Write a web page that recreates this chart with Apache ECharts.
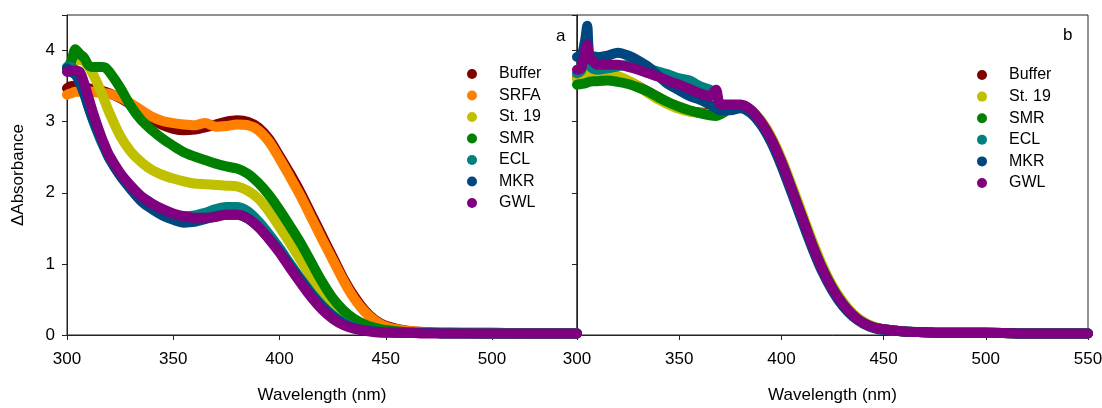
<!DOCTYPE html>
<html>
<head>
<meta charset="utf-8">
<script src="https://cdn.jsdelivr.net/npm/echarts@6/dist/echarts.min.js"></script>
<style>html,body{margin:0;padding:0;background:#fff}#c{width:1102px;height:408px}</style>
</head>
<body>
<div id="c"></div>
<script>
// ---------- Panel a ----------
const wlA = [300,302,304,306,308,310,312,314,316,318,320,325,330,335,340,345,350,355,360,365,370,375,380,385,390,395,400,405,410,415,420,425,430,435,440,445,450,460,470,480,500,520,540];
const aBuffer = [3.47,3.50,3.50,3.49,3.48,3.47,3.46,3.45,3.44,3.42,3.40,3.33,3.24,3.13,3.03,2.95,2.90,2.88,2.89,2.92,2.96,3.00,3.02,3.00,2.92,2.76,2.52,2.27,2.00,1.70,1.40,1.10,0.80,0.55,0.35,0.21,0.13,0.06,0.04,0.03,0.03,0.02,0.02];
const aSRFA   = [3.38,3.40,3.42,3.42,3.42,3.42,3.42,3.41,3.41,3.40,3.39,3.34,3.26,3.16,3.07,3.01,2.98,2.96,2.95,2.98,2.93,2.94,2.96,2.95,2.88,2.72,2.48,2.22,1.95,1.65,1.35,1.06,0.77,0.52,0.33,0.20,0.12,0.06,0.04,0.03,0.03,0.02,0.02];
const aSt19   = [3.72,3.80,3.85,3.87,3.85,3.78,3.68,3.56,3.42,3.27,3.12,2.80,2.58,2.43,2.32,2.25,2.20,2.16,2.13,2.12,2.11,2.10,2.09,2.03,1.92,1.74,1.52,1.29,1.05,0.81,0.59,0.41,0.27,0.18,0.12,0.08,0.06,0.04,0.03,0.03,0.02,0.02,0.02];
const aSMR    = [3.75,3.85,4.02,3.95,3.90,3.80,3.77,3.77,3.77,3.76,3.70,3.48,3.22,3.02,2.88,2.76,2.66,2.57,2.51,2.46,2.41,2.37,2.34,2.27,2.14,1.97,1.76,1.53,1.29,1.02,0.75,0.52,0.35,0.23,0.15,0.10,0.07,0.04,0.03,0.03,0.02,0.02,0.02];
const aECL    = [3.77,3.77,3.70,3.58,3.42,3.22,3.04,2.88,2.73,2.60,2.48,2.25,2.07,1.93,1.82,1.74,1.69,1.67,1.68,1.72,1.77,1.80,1.80,1.74,1.60,1.42,1.22,1.00,0.79,0.59,0.42,0.28,0.18,0.11,0.07,0.05,0.04,0.03,0.03,0.02,0.02,0.02,0.02];
const aMKR    = [3.75,3.70,3.66,3.55,3.40,3.22,3.05,2.90,2.76,2.62,2.48,2.24,2.05,1.88,1.77,1.68,1.62,1.58,1.59,1.63,1.67,1.69,1.69,1.64,1.52,1.36,1.18,0.97,0.77,0.57,0.40,0.26,0.16,0.10,0.07,0.05,0.04,0.03,0.03,0.02,0.02,0.02,0.02];
const aGWL    = [3.70,3.72,3.72,3.70,3.55,3.35,3.15,2.97,2.80,2.65,2.52,2.28,2.10,1.95,1.85,1.77,1.71,1.67,1.65,1.65,1.66,1.69,1.69,1.64,1.52,1.35,1.16,0.94,0.73,0.53,0.36,0.23,0.14,0.09,0.06,0.04,0.03,0.03,0.02,0.02,0.02,0.02,0.02];

// ---------- Panel b ----------
const wlB = [300,302,304,305,306,308,310,315,320,325,330,335,340,345,350,355,360,365,368,370,375,380,385,390,395,400,405,410,415,420,425,430,435,440,445,450,460,470,480,500,525,550];
const bBuffer = [3.62,3.63,3.64,3.65,3.65,3.66,3.66,3.65,3.62,3.57,3.50,3.42,3.34,3.26,3.19,3.15,3.13,3.12,3.13,3.15,3.20,3.21,3.15,3.00,2.76,2.44,2.07,1.68,1.29,0.95,0.67,0.45,0.29,0.18,0.11,0.08,0.05,0.04,0.03,0.03,0.02,0.02];
const bSt19   = [3.60,3.62,3.64,3.66,3.67,3.68,3.68,3.66,3.64,3.58,3.50,3.40,3.31,3.24,3.18,3.14,3.12,3.11,3.12,3.15,3.20,3.22,3.16,3.02,2.79,2.48,2.11,1.72,1.33,0.98,0.69,0.47,0.30,0.19,0.12,0.08,0.05,0.04,0.03,0.03,0.02,0.02];
const bSMR    = [3.52,3.53,3.54,3.55,3.56,3.57,3.57,3.58,3.56,3.53,3.48,3.42,3.34,3.27,3.21,3.16,3.12,3.09,3.08,3.10,3.18,3.20,3.14,2.99,2.75,2.43,2.06,1.67,1.28,0.94,0.66,0.44,0.28,0.17,0.11,0.08,0.05,0.04,0.03,0.03,0.02,0.02];
const bECL    = [3.68,3.72,3.95,4.17,3.80,3.74,3.73,3.75,3.78,3.80,3.84,3.75,3.70,3.66,3.61,3.58,3.50,3.45,3.40,3.25,3.20,3.21,3.14,2.98,2.74,2.42,2.04,1.65,1.26,0.92,0.64,0.43,0.27,0.17,0.11,0.08,0.05,0.04,0.03,0.03,0.02,0.02];
const bMKR    = [3.91,3.92,4.15,4.35,3.95,3.92,3.91,3.93,3.97,3.93,3.86,3.77,3.64,3.52,3.44,3.36,3.31,3.24,3.19,3.16,3.16,3.19,3.12,2.96,2.71,2.38,2.00,1.61,1.23,0.89,0.62,0.41,0.26,0.16,0.10,0.07,0.05,0.04,0.03,0.03,0.02,0.02];
const bGWL    = [3.73,3.75,4.00,4.08,3.91,3.84,3.80,3.80,3.80,3.77,3.73,3.68,3.63,3.57,3.52,3.46,3.40,3.36,3.45,3.25,3.24,3.24,3.17,3.00,2.76,2.44,2.06,1.67,1.28,0.93,0.65,0.44,0.28,0.17,0.11,0.08,0.05,0.04,0.03,0.03,0.02,0.02];

const xTicksA = [300,350,400,450,500];
const yTicks = [0,1,2,3,4];
const colors = {Buffer:'#800000', SRFA:'#ff8000', 'St. 19':'#c0c000', SMR:'#008000', ECL:'#008080', MKR:'#00467f', GWL:'#800080'};

const seriesA = [['Buffer',aBuffer],['SRFA',aSRFA],['St. 19',aSt19],['SMR',aSMR],['ECL',aECL],['MKR',aMKR],['GWL',aGWL]];
const seriesB = [['Buffer',bBuffer],['St. 19',bSt19],['SMR',bSMR],['ECL',bECL],['MKR',bMKR],['GWL',bGWL]];

const FONT = '"Liberation Sans", Arial, sans-serif';
function mkSeries(list, wl, idx) {
  return list.map(([name, vals]) => ({
    name, type: 'line', xAxisIndex: idx, yAxisIndex: idx,
    data: wl.map((w, i) => [w, vals[i]]),
    smooth: 0.3, showSymbol: false, clip: false,
    color: colors[name],
    lineStyle: {width: 10, color: colors[name], cap: 'round', join: 'round'},
    itemStyle: {color: colors[name]},
    emphasis: {disabled: true}, animation: false
  }));
}

const axisLine = {show: true, lineStyle: {color: '#222', width: 1}};
const chart = echarts.init(document.getElementById('c'));
chart.setOption({
  animation: false,
  textStyle: {fontFamily: FONT},
  grid: [
    {left: 67, right: 525, top: 15, bottom: 73, show: true, borderColor: '#222', borderWidth: 1, containLabel: false, outerBoundsMode: 'none'},
    {left: 577, right: 14, top: 15, bottom: 73, show: true, borderColor: '#222', borderWidth: 1, containLabel: false, outerBoundsMode: 'none'}
  ],
  xAxis: [
    {type: 'value', gridIndex: 0, min: 300, max: 540, interval: 50,
     name: 'Wavelength (nm)', nameLocation: 'middle', nameGap: 52,
     nameTextStyle: {fontSize: 17, color: '#000', fontFamily: FONT},
     axisLine, axisTick: {show: true, inside: false, length: 5, lineStyle: {color: '#222'}},
     axisLabel: {fontSize: 17, color: '#000', margin: 16, fontFamily: FONT,
       formatter: v => (xTicksA.indexOf(v) >= 0 ? String(v) : '')},
     splitLine: {show: false}},
    {type: 'value', gridIndex: 1, min: 300, max: 550, interval: 50,
     name: 'Wavelength (nm)', nameLocation: 'middle', nameGap: 52,
     nameTextStyle: {fontSize: 17, color: '#000', fontFamily: FONT},
     axisLine, axisTick: {show: true, inside: false, length: 5, lineStyle: {color: '#222'}},
     axisLabel: {fontSize: 17, color: '#000', margin: 16, fontFamily: FONT},
     splitLine: {show: false}}
  ],
  yAxis: [
    {type: 'value', gridIndex: 0, min: 0, max: 4.5, interval: 1,
     name: 'ΔAbsorbance', nameLocation: 'middle', nameGap: 40, nameRotate: 90,
     nameTextStyle: {fontSize: 17, color: '#000', fontFamily: FONT},
     axisLine, axisTick: {show: true, inside: false, length: 5, lineStyle: {color: '#222'}},
     axisLabel: {fontSize: 17, color: '#000', margin: 12, fontFamily: FONT,
       formatter: v => (yTicks.indexOf(v) >= 0 ? String(v) : '')},
     splitLine: {show: false}},
    {type: 'value', gridIndex: 1, min: 0, max: 4.5, interval: 1,
     axisLine, axisTick: {show: true, inside: false, length: 5, lineStyle: {color: '#222'}},
     axisLabel: {show: false}, splitLine: {show: false}}
  ],
  legend: [
    {orient: 'vertical', left: 462, top: 61, icon: 'circle', itemWidth: 10, itemHeight: 10, itemGap: 5.5,
     data: seriesA.map(s => s[0]), selectedMode: false,
     textStyle: {fontSize: 16, color: '#000', lineHeight: 16, padding: [0,0,0,17], fontFamily: FONT}},
    {orient: 'vertical', left: 972, top: 62, icon: 'circle', itemWidth: 10, itemHeight: 10, itemGap: 5.6,
     data: seriesB.map(s => s[0]), selectedMode: false,
     textStyle: {fontSize: 16, color: '#000', lineHeight: 16, padding: [0,0,0,17], fontFamily: FONT}}
  ],
  graphic: [
    {type: 'text', left: 556, top: 28, style: {text: 'a', fontSize: 17, fill: '#000', fontFamily: FONT}},
    {type: 'text', left: 1063, top: 27, style: {text: 'b', fontSize: 17, fill: '#000', fontFamily: FONT}}
  ],
  series: mkSeries(seriesA, wlA, 0).concat(mkSeries(seriesB, wlB, 1))
});
</script>
</body>
</html>
